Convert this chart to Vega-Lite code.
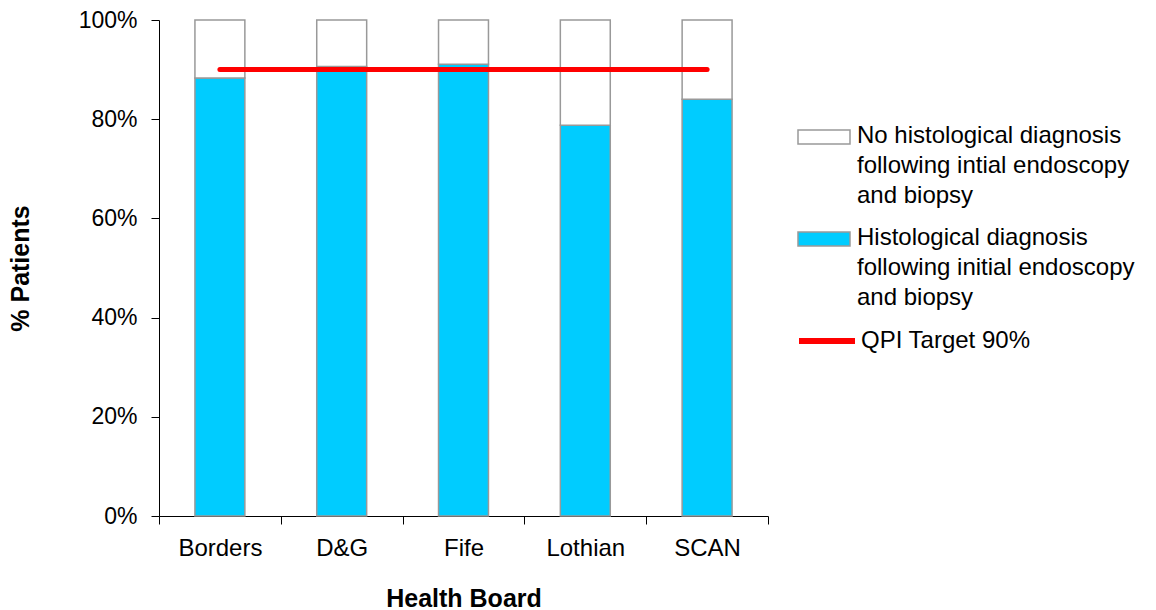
{
  "$schema": "https://vega.github.io/schema/vega-lite/v6.json",
  "autosize": "none",
  "width": 609,
  "height": 496,
  "padding": {"left": 159, "top": 20, "right": 388, "bottom": 94},
  "background": "white",
  "config": {
    "view": {"stroke": null},
    "font": "Liberation Sans",
    "style": {"guide-label": {"lineHeight": 30}}
  },
  "datasets": {
    "bars": [
      {"board": "Borders", "series": "Histological diagnosis following initial endoscopy and biopsy", "value": 0.883},
      {"board": "Borders", "series": "No histological diagnosis following intial endoscopy and biopsy", "value": 0.117},
      {"board": "D&G", "series": "Histological diagnosis following initial endoscopy and biopsy", "value": 0.906},
      {"board": "D&G", "series": "No histological diagnosis following intial endoscopy and biopsy", "value": 0.094},
      {"board": "Fife", "series": "Histological diagnosis following initial endoscopy and biopsy", "value": 0.911},
      {"board": "Fife", "series": "No histological diagnosis following intial endoscopy and biopsy", "value": 0.089},
      {"board": "Lothian", "series": "Histological diagnosis following initial endoscopy and biopsy", "value": 0.788},
      {"board": "Lothian", "series": "No histological diagnosis following intial endoscopy and biopsy", "value": 0.212},
      {"board": "SCAN", "series": "Histological diagnosis following initial endoscopy and biopsy", "value": 0.84},
      {"board": "SCAN", "series": "No histological diagnosis following intial endoscopy and biopsy", "value": 0.16}
    ],
    "target": [
      {"board": "Borders", "target": 0.9, "label": "QPI Target 90%"},
      {"board": "D&G", "target": 0.9, "label": "QPI Target 90%"},
      {"board": "Fife", "target": 0.9, "label": "QPI Target 90%"},
      {"board": "Lothian", "target": 0.9, "label": "QPI Target 90%"},
      {"board": "SCAN", "target": 0.9, "label": "QPI Target 90%"}
    ]
  },
  "layer": [
    {
      "data": {"name": "bars"},
      "mark": {"type": "bar", "stroke": "#999999", "strokeWidth": 1.5, "width": {"band": 0.41}},
      "encoding": {
        "x": {
          "field": "board", "type": "nominal", "sort": null,
          "scale": {"paddingInner": 0, "paddingOuter": 0},
          "axis": {
            "title": "Health Board", "titleFontSize": 25, "titleFontWeight": "bold", "titleColor": "#000",
            "titlePadding": 26,
            "labelAngle": 0, "labelFontSize": 24, "labelColor": "#000", "labelPadding": 12,
            "tickBand": "extent", "tickSize": 8, "tickColor": "#000", "domainColor": "#000",
            "grid": false
          }
        },
        "y": {
          "field": "value", "type": "quantitative", "stack": "zero",
          "scale": {"domain": [0, 1], "nice": false},
          "axis": {
            "title": "% Patients", "titleFontSize": 25, "titleFontWeight": "bold", "titleColor": "#000",
            "titlePadding": 45,
            "format": ".0%", "values": [0, 0.2, 0.4, 0.6, 0.8, 1],
            "labelFontSize": 23, "labelColor": "#000", "labelPadding": 14,
            "tickSize": 8, "tickColor": "#000", "domainColor": "#000", "grid": false
          }
        },
        "fill": {
          "field": "series", "type": "nominal",
          "scale": {
            "domain": ["No histological diagnosis following intial endoscopy and biopsy", "Histological diagnosis following initial endoscopy and biopsy"],
            "range": ["#FFFFFF", "#00CCFF"]
          },
          "legend": {
            "title": null, "orient": "none", "legendX": 653, "legendY": 92, "padding": 0,
            "symbolType": "M-3.714,0.857H3.714V2.857H-3.714Z", "symbolSize": 196,
            "symbolStrokeColor": "#999999", "symbolStrokeWidth": 1.5,
            "labelFontSize": 24, "labelColor": "#000", "labelLimit": 0, "labelOffset": 21,
            "labelBaseline": "top", "rowPadding": 6,
            "labelExpr": "datum.label == 'Histological diagnosis following initial endoscopy and biopsy' ? ['Histological diagnosis', 'following initial endoscopy', 'and biopsy'] : ['No histological diagnosis', 'following intial endoscopy', 'and biopsy']"
          }
        },
        "order": {"field": "series", "sort": "ascending"}
      }
    },
    {
      "data": {"name": "target"},
      "mark": {"type": "line", "strokeWidth": 5, "strokeCap": "round"},
      "encoding": {
        "x": {"field": "board", "type": "nominal", "sort": null},
        "y": {"field": "target", "type": "quantitative"},
        "stroke": {
          "field": "label", "type": "nominal",
          "scale": {"domain": ["QPI Target 90%"], "range": ["#FF0000"]},
          "legend": {
            "title": null, "orient": "none", "legendX": 637, "legendY": 290, "padding": 0,
            "symbolType": "stroke", "symbolSize": 3136, "symbolStrokeWidth": 6,
            "labelFontSize": 24, "labelColor": "#000", "labelLimit": 0, "labelOffset": 3
          }
        }
      }
    }
  ]
}
